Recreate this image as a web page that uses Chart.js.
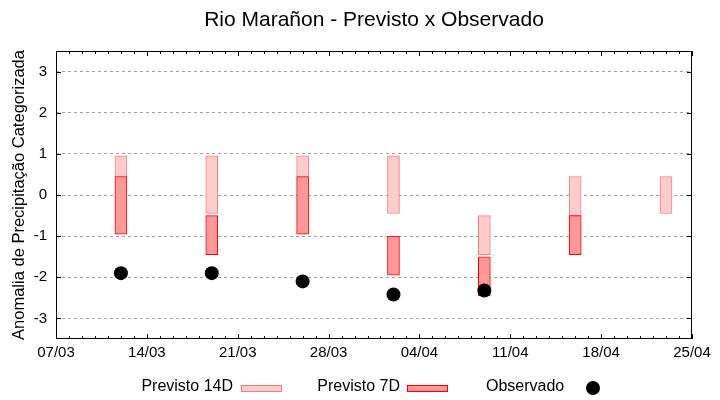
<!DOCTYPE html>
<html>
<head>
<meta charset="utf-8">
<script src="https://cdn.jsdelivr.net/npm/chart.js@4.4.1/dist/chart.umd.min.js"></script>
<style>
  body { margin: 0; background: #fff; }
  #wrap { position: relative; width: 720px; height: 400px; font-family: "Liberation Sans", Arial, sans-serif; }
  .lg-text { position: absolute; top: 378px; font-size: 16px; line-height: 16px; color: #000; white-space: nowrap; }
  .lg-box { position: absolute; top: 385px; width: 41px; height: 7px; box-sizing: border-box; border: 1px solid; }
  .lg-dot { position: absolute; left: 586px; top: 381px; width: 14px; height: 14px; border-radius: 50%; background: #000; }
</style>
</head>
<body>
<div id="wrap">
  <canvas id="chart" width="720" height="400"></canvas>
  <div class="lg-text" style="right:487px">Previsto 14D</div>
  <div class="lg-box" style="left:241px; background:#ffcccc; border-color:#f08080"></div>
  <div class="lg-text" style="right:320px">Previsto 7D</div>
  <div class="lg-box" style="left:407px; background:#ff9999; border-color:#ff0000"></div>
  <div class="lg-text" style="left:486px">Observado</div>
  <div class="lg-dot"></div>
</div>
<script>
// data
const startDate = '07/03';
const endDate = '25/04';
const dates = ['12/03', '19/03', '26/03', '02/04', '09/04', '16/04', '23/04'];
const prev14Low = [0.45, -0.45, 0.45, -0.45, -1.45, -0.5, -0.45];
const prev14High = [0.95, 0.95, 0.95, 0.95, -0.5, 0.45, 0.45];
const prev7Low = [-0.95, -1.45, -0.95, -1.95, -2.45, -1.45, null];
const prev7High = [0.45, -0.5, 0.45, -1.0, -1.5, -0.5, null];
const observed = [-1.9, -1.9, -2.1, -2.42, -2.32, null, null];
const xTickLabels = ['07/03', '14/03', '21/03', '28/03', '04/04', '11/04', '18/04', '25/04'];
const yTicks = [-3, -2, -1, 0, 1, 2, 3];

// days since startDate
function dayOffset(s) {
    const p = s.split('/');
    const q = startDate.split('/');
    return (Date.UTC(2024, p[1] - 1, +p[0]) - Date.UTC(2024, q[1] - 1, +q[0])) / 86400000;
}

const font = "'Liberation Sans', Arial, sans-serif";

// box round the plot with inward ticks, like gnuplot
const framePlugin = {
    id: 'frame',
    afterDraw(chart) {
        const { ctx, chartArea: a, scales: { x, y } } = chart;
        ctx.save();
        ctx.strokeStyle = '#000';
        ctx.lineWidth = 1;
        ctx.beginPath();
        for (let d = x.min; d <= x.max; d++) {
            const px = Math.round(x.getPixelForValue(d)) + 0.5;
            const len = (d % 7 === 0) ? 5 : 3;
            ctx.moveTo(px, a.bottom); ctx.lineTo(px, a.bottom - len);
            ctx.moveTo(px, a.top); ctx.lineTo(px, a.top + len);
        }
        yTicks.forEach(v => {
            const py = Math.round(y.getPixelForValue(v)) + 0.5;
            ctx.moveTo(a.left, py); ctx.lineTo(a.left + 5, py);
            ctx.moveTo(a.right, py); ctx.lineTo(a.right - 5, py);
        });
        ctx.stroke();
        ctx.strokeRect(a.left + 0.5, a.top + 0.5, a.right - a.left - 1, a.bottom - a.top - 1);
        ctx.restore();
    }
};

const bars14 = dates.map((d, i) => ({ x: dayOffset(d), y: [prev14Low[i], prev14High[i]] }));
const bars7 = dates.map((d, i) => ({ x: dayOffset(d), y: [prev7Low[i], prev7High[i]] }))
    .filter(p => p.y[0] !== null);
const obsPoints = dates.map((d, i) => ({ x: dayOffset(d), y: observed[i] }))
    .filter(p => p.y !== null);

new Chart(document.getElementById('chart'), {
    type: 'bar',
    data: {
        datasets: [
            {
                label: 'Observado',
                type: 'line',
                data: obsPoints,
                showLine: false,
                pointRadius: 7,
                pointBorderWidth: 0,
                pointBackgroundColor: '#000',
                order: 0
            },
            {
                label: 'Previsto 7D',
                data: bars7,
                backgroundColor: '#ff9999',
                borderColor: '#ff0000',
                borderWidth: 1,
                borderSkipped: false,
                barThickness: 12,
                grouped: false,
                order: 1
            },
            {
                label: 'Previsto 14D',
                data: bars14,
                backgroundColor: '#ffcccc',
                borderColor: '#f08080',
                borderWidth: 1,
                borderSkipped: false,
                barThickness: 12,
                grouped: false,
                order: 2
            }
        ]
    },
    options: {
        responsive: false,
        animation: false,
        layout: { padding: { left: 0, right: 28, top: 0, bottom: 36 } },
        plugins: {
            legend: { display: false },
            tooltip: { enabled: false },
            title: {
                display: true,
                fullSize: false,
                text: 'Rio Marañon - Previsto x Observado',
                color: '#000',
                font: { family: font, size: 21, weight: 'normal' },
                padding: { top: 8, bottom: 17.8 }
            }
        },
        scales: {
            x: {
                type: 'linear',
                min: 0,
                max: dayOffset(endDate),
                offset: false,
                grid: { display: false, drawTicks: false, offset: false },
                border: { display: false },
                afterBuildTicks: s => { s.ticks = xTickLabels.map(l => ({ value: dayOffset(l) })); },
                afterFit: s => { s.height = 25; },
                ticks: {
                    color: '#000',
                    font: { family: font, size: 15 },
                    padding: 5,
                    maxRotation: 0,
                    autoSkip: false,
                    callback: v => xTickLabels.find(l => dayOffset(l) === v) || ''
                }
            },
            y: {
                min: -3.5,
                max: 3.5,
                grid: { color: '#a0a0a0', lineWidth: 1, drawTicks: false },
                border: { display: false, dash: [3, 3] },
                afterBuildTicks: s => { s.ticks = yTicks.map(v => ({ value: v })); },
                afterFit: s => { s.width = 56; },
                ticks: {
                    color: '#000',
                    font: { family: font, size: 15 },
                    padding: 9
                },
                title: {
                    display: true,
                    text: 'Anomalia de Precipitação Categorizada',
                    color: '#000',
                    font: { family: font, size: 16.5 },
                    padding: { top: 10, bottom: 0 }
                }
            }
        }
    },
    plugins: [framePlugin]
});
</script>
</body>
</html>
